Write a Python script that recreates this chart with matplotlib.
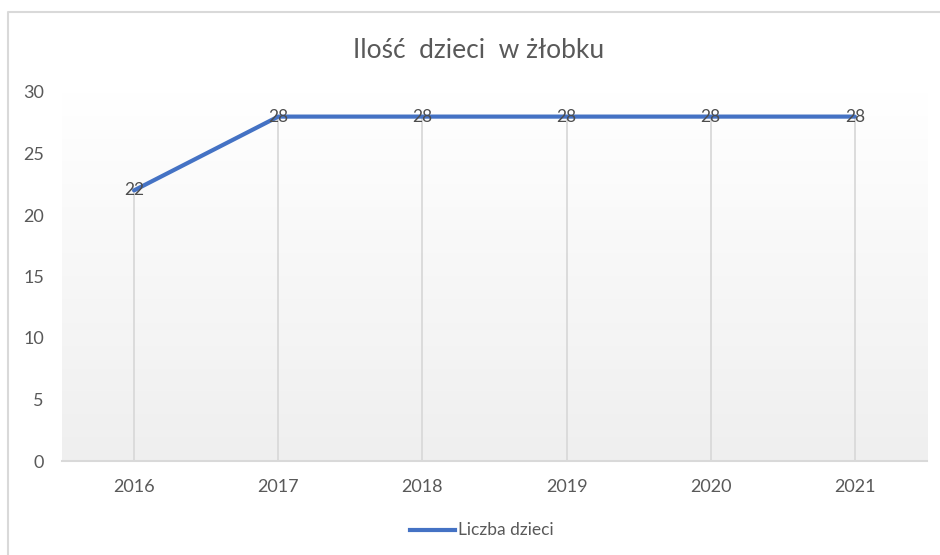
import numpy as np
import matplotlib
matplotlib.use("Agg")
import matplotlib.pyplot as plt
from matplotlib.lines import Line2D
from matplotlib.colors import LinearSegmentedColormap

# Data
years = ["2016", "2017", "2018", "2019", "2020", "2021"]
children = [22, 28, 28, 28, 28, 28]
y_ticks = [0, 5, 10, 15, 20, 25, 30]
title = "Ilość  dzieci  w żłobku"
series_name = "Liczba dzieci"

LINE = "#4472C4"
TEXT = "#595959"
GRID = "#D9D9D9"
FONT = ["Lato", "DejaVu Sans"]

plt.rcParams["font.family"] = FONT

fig = plt.figure(figsize=(9.4, 5.55), dpi=100)
W, H = 940, 555
ax = fig.add_axes([62 / W, 1 - 461 / H, (927 - 62) / W, (461 - 92) / H])

x = np.arange(len(years))
ax.set_xlim(-0.5, len(years) - 0.5)
ax.set_ylim(0, 30)

# soft vertical gradient behind the plot area
grad = np.linspace(0, 1, 256).reshape(-1, 1)
cmap = LinearSegmentedColormap.from_list("bg", ["#FFFFFF", "#EFEFEF"])
ax.imshow(grad, aspect="auto", cmap=cmap, origin="upper",
          extent=[-0.5, len(years) - 0.5, 0, 30], zorder=0)

# drop lines from each point to the category axis
ax.vlines(x, 0, children, color=GRID, lw=1.3, zorder=1)

ax.plot(x, children, color=LINE, lw=3.0, solid_capstyle="round", zorder=3)
for xi, v in zip(x, children):
    ax.text(xi, v, str(v), ha="center", va="center", fontsize=12.5,
            color="#4D4D4D", zorder=4)

for s in ["top", "right", "left"]:
    ax.spines[s].set_visible(False)
ax.spines["bottom"].set_color(GRID)
ax.spines["bottom"].set_linewidth(1.5)
ax.spines["bottom"].set_zorder(2)

ax.set_xticks(x, years)
ax.set_yticks(y_ticks)
ax.tick_params(axis="both", length=0, labelsize=13, labelcolor=TEXT)
ax.tick_params(axis="x", pad=13)
ax.tick_params(axis="y", pad=13)

fig.text(479 / W, 1 - 50 / H, title, ha="center", va="center",
         fontsize=19, color=TEXT)

# legend
fig.add_artist(Line2D([410 / W, 455 / W], [1 - 530 / H, 1 - 530 / H],
                      color=LINE, lw=3.0, transform=fig.transFigure))
fig.text(458 / W, 1 - 530 / H, series_name, ha="left", va="center",
         fontsize=12.5, color=TEXT)

# chart area border
fig.add_artist(Line2D([8 / W, 8 / W, 1.0], [0.0, 1 - 12 / H, 1 - 12 / H],
                      color=GRID, lw=1.5, transform=fig.transFigure))

fig.savefig("out.png", dpi=100, facecolor="white")
